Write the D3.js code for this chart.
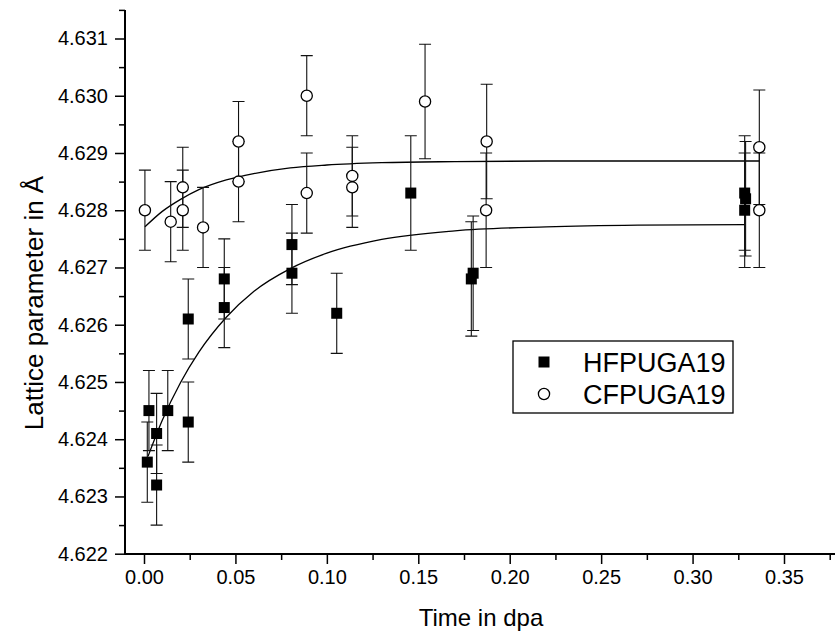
<!DOCTYPE html>
<html>
<head>
<meta charset="utf-8">
<script src="https://cdn.jsdelivr.net/npm/d3@7"></script>
<style>
  html, body { margin: 0; padding: 0; background: #fff; }
  svg { display: block; font-family: "Liberation Sans", Arial, sans-serif; }
</style>
</head>
<body>
<svg id="grafico" width="835" height="637"></svg>
<script>
// lattice parameter vs dose, two series with error bars and a saturating fit each

var hfX = [0.0018, 0.0027, 0.0069, 0.0069, 0.0130, 0.0242, 0.0242, 0.0439, 0.0439,
           0.0809, 0.0809, 0.1054, 0.1459, 0.1790, 0.1800, 0.3285, 0.3290, 0.3285];
var hfY = [4.6236, 4.6245, 4.6241, 4.6232, 4.6245, 4.6243, 4.6261, 4.6263, 4.6268,
           4.6269, 4.6274, 4.6262, 4.6283, 4.6268, 4.6269, 4.6283, 4.6282, 4.6280];
var hfErr = [0.0007, 0.0007, 0.0007, 0.0007, 0.0007, 0.0007, 0.0007, 0.0007, 0.0007,
             0.0007, 0.0007, 0.0007, 0.0010, 0.0010, 0.0010, 0.0010, 0.0010, 0.0010];

var cfX = [0.0005, 0.0146, 0.0212, 0.0212, 0.0323, 0.0517, 0.0517, 0.0890, 0.0890,
           0.1139, 0.1139, 0.1537, 0.1874, 0.1871, 0.3365, 0.3365];
var cfY = [4.6280, 4.6278, 4.6284, 4.6280, 4.6277, 4.6292, 4.6285, 4.6300, 4.6283,
           4.6286, 4.6284, 4.6299, 4.6292, 4.6280, 4.6291, 4.6280];
var cfErr = [0.0007, 0.0007, 0.0007, 0.0007, 0.0007, 0.0007, 0.0007, 0.0007, 0.0007,
             0.0007, 0.0007, 0.0010, 0.0010, 0.0010, 0.0010, 0.0010];

// fitted curves
var hfFitX = [0.0022, 0.01, 0.02, 0.03, 0.045, 0.06, 0.08, 0.10, 0.13, 0.17, 0.22, 0.27, 0.3285];
var hfFitY = [4.62370, 4.62433, 4.62499, 4.62552, 4.62613, 4.62658, 4.62698, 4.62725,
              4.62749, 4.62764, 4.62771, 4.62774, 4.62775];
var cfFitX = [0.0005, 0.01, 0.02, 0.03, 0.045, 0.06, 0.08, 0.10, 0.13, 0.17, 0.22, 0.28, 0.3365];
var cfFitY = [4.62771, 4.62798, 4.62819, 4.62836, 4.62853, 4.62864, 4.62874, 4.62879,
              4.62883, 4.62885, 4.62886, 4.62886, 4.62886];

var xTicks = [0.00, 0.05, 0.10, 0.15, 0.20, 0.25, 0.30, 0.35];
var xMinor = [0.025, 0.075, 0.125, 0.175, 0.225, 0.275, 0.325, 0.375];
var yTicks = [4.622, 4.623, 4.624, 4.625, 4.626, 4.627, 4.628, 4.629, 4.630, 4.631];
var yMinor = [4.6225, 4.6235, 4.6245, 4.6255, 4.6265, 4.6275, 4.6285, 4.6295, 4.6305, 4.6315];

var series = [
  { nombre: "HFPUGA19", xs: hfX, ys: hfY, err: hfErr, forma: "square" },
  { nombre: "CFPUGA19", xs: cfX, ys: cfY, err: cfErr, forma: "circle" }
];

(function () {
  var svg = d3.select("#grafico");
  var izq = 125, abajo = 554, arriba = 10, der = 835;

  var x = d3.scaleLinear().domain([0, 0.35]).range([144, 784]);
  var y = d3.scaleLinear().domain([4.622, 4.631]).range([553.7, 38.5]);

  // axes: major ticks with labels, minor ticks without
  var ejeX = svg.append("g").attr("transform", "translate(0," + abajo + ")")
    .call(d3.axisBottom(x).tickValues(xTicks).tickFormat(d3.format(".2f"))
      .tickSize(10).tickPadding(6));
  var ejeXm = svg.append("g").attr("transform", "translate(0," + abajo + ")")
    .call(d3.axisBottom(x).tickValues(xMinor).tickFormat("").tickSize(6));
  var ejeY = svg.append("g").attr("transform", "translate(" + izq + ",0)")
    .call(d3.axisLeft(y).tickValues(yTicks).tickFormat(d3.format(".3f"))
      .tickSize(10).tickPadding(7));
  var ejeYm = svg.append("g").attr("transform", "translate(" + izq + ",0)")
    .call(d3.axisLeft(y).tickValues(yMinor).tickFormat("").tickSize(6));

  [ejeX, ejeXm, ejeY, ejeYm].forEach(function (g) {
    g.select(".domain").remove();
    g.selectAll(".tick line").attr("stroke", "#000").attr("stroke-width", 1.5);
    g.selectAll(".tick text").attr("fill", "#000").style("font-size", "20px")
      .style("font-family", "'Liberation Sans', Arial, sans-serif");
  });

  svg.append("path")
    .attr("d", "M" + izq + "," + arriba + "V" + abajo + "H" + der)
    .attr("fill", "none").attr("stroke", "#000").attr("stroke-width", 2);

  // axis titles
  svg.append("text").attr("x", 481).attr("y", 626).attr("text-anchor", "middle")
    .style("font-size", "24px").text("Time in dpa");
  svg.append("text").attr("transform", "translate(43,303) rotate(-90)")
    .attr("text-anchor", "middle").style("font-size", "26px")
    .text("Lattice parameter in Å");

  // fit curves
  var linea = d3.line().curve(d3.curveMonotoneX)
    .x(function (d) { return x(d[0]); }).y(function (d) { return y(d[1]); });
  [[hfFitX, hfFitY], [cfFitX, cfFitY]].forEach(function (c) {
    svg.append("path").datum(d3.zip(c[0], c[1])).attr("d", linea)
      .attr("fill", "none").attr("stroke", "#000").attr("stroke-width", 1.3);
  });

  // error bars first, markers on top
  series.forEach(function (s) {
    var pts = s.xs.map(function (v, i) { return { x: v, y: s.ys[i], e: s.err[i] }; });
    var g = svg.append("g").attr("stroke", "#111").attr("stroke-width", 1.1);
    pts.forEach(function (p) {
      var cx = x(p.x), y1 = y(p.y + p.e), y2 = y(p.y - p.e);
      g.append("path").attr("fill", "none")
        .attr("d", "M" + cx + "," + y1 + "V" + y2 +
          "M" + (cx - 6) + "," + y1 + "H" + (cx + 6) +
          "M" + (cx - 6) + "," + y2 + "H" + (cx + 6));
    });
  });

  function marcador(g, forma, cx, cy) {
    if (forma === "square") {
      g.append("rect").attr("x", cx - 5.5).attr("y", cy - 5.5)
        .attr("width", 11).attr("height", 11).attr("fill", "#000");
    } else {
      g.append("circle").attr("cx", cx).attr("cy", cy).attr("r", 5.6)
        .attr("fill", "#fff").attr("stroke", "#000").attr("stroke-width", 1.3);
    }
  }

  series.forEach(function (s) {
    var g = svg.append("g");
    s.xs.forEach(function (v, i) { marcador(g, s.forma, x(v), y(s.ys[i])); });
  });

  // legend
  var ley = svg.append("g");
  ley.append("rect").attr("x", 513).attr("y", 341).attr("width", 220).attr("height", 72)
    .attr("fill", "#fff").attr("stroke", "#000").attr("stroke-width", 1.3);
  series.forEach(function (s, i) {
    var cy = 362 + i * 32;
    marcador(ley, s.forma, 544, cy);
    ley.append("text").attr("x", 583).attr("y", cy + 10)
      .style("font-size", "27px").text(s.nombre);
  });
})();
</script>
</body>
</html>
